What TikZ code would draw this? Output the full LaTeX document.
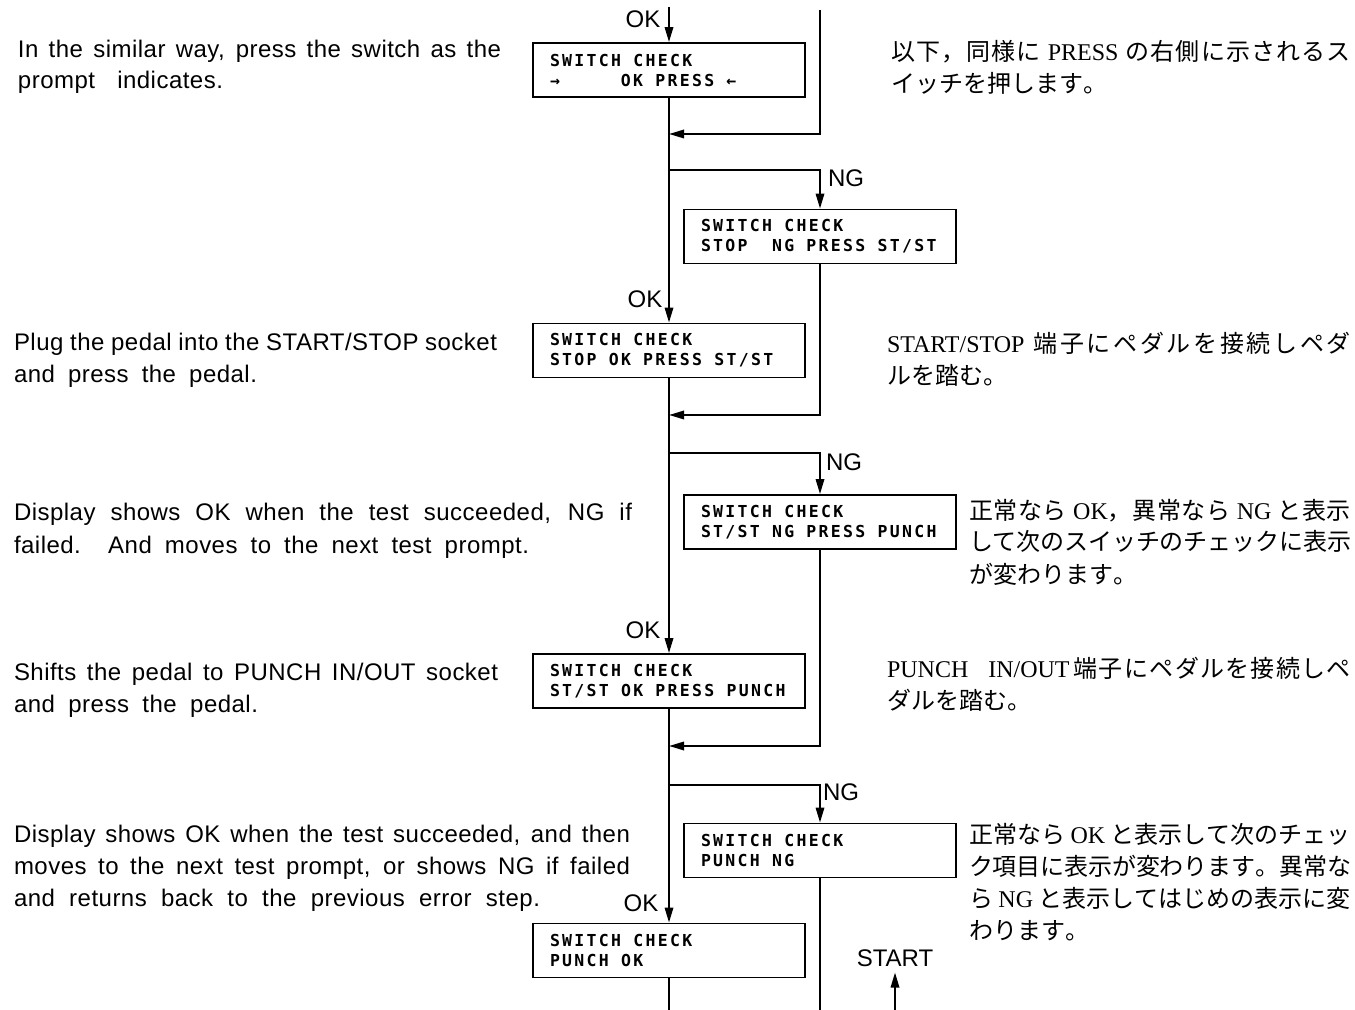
\documentclass[tikz,border=0pt]{standalone}
\usepackage{fontspec}
\usetikzlibrary{arrows.meta}
\newfontfamily\ensans[LetterSpace=2]{Liberation Sans}
\newfontfamily\labsans{Liberation Sans}
\newfontfamily\jp{Noto Sans CJK JP}
\newfontfamily\jser{Liberation Serif}
\newfontfamily\lcd[LetterSpace=14]{DejaVu Sans Mono}
\newcommand\lsp{\hspace*{6.1pt}}
\newcommand\jl[1]{{\jser #1}}
% inter-character glue between CJK characters (for justified lines)
\XeTeXinterchartokenstate=1
\newXeTeXintercharclass\cjkcls
\newcount\cjkcnt
\cjkcnt="3000 \loop\ifnum\cjkcnt<"3100 \XeTeXcharclass\cjkcnt=\cjkcls \advance\cjkcnt by 1 \repeat
\cjkcnt="4E00 \loop\ifnum\cjkcnt<"A000 \XeTeXcharclass\cjkcnt=\cjkcls \advance\cjkcnt by 1 \repeat
\cjkcnt="FF00 \loop\ifnum\cjkcnt<"FF60 \XeTeXcharclass\cjkcnt=\cjkcls \advance\cjkcnt by 1 \repeat
\XeTeXinterchartoks\cjkcls\cjkcls={\hskip0pt plus 1pt minus 0.5pt\relax}
\begin{document}
\begin{tikzpicture}[x=0.5pt,y=-0.5pt,line width=1pt,
  arr/.style={-{Triangle[length=7.5pt,width=4.2pt]}},
  lcdbox/.style={draw,line width=0.9pt,minimum width=136pt,minimum height=27pt,
    inner xsep=8.5pt,inner ysep=0pt,text width=119pt,align=left,
    font=\lcd\bfseries\fontsize{8.25pt}{10pt}\selectfont},
  entext/.style={anchor=base west,inner sep=0pt,font=\ensans\fontsize{12pt}{14pt}\selectfont},
  jptext/.style={anchor=base west,inner sep=0pt,font=\jp\fontsize{12pt}{16pt}\selectfont},
  lab/.style={inner sep=0pt,font=\labsans\fontsize{12pt}{14pt}\selectfont}]
\useasboundingbox (0,0) rectangle (1355,1010);

% boxes
\node[lcdbox] (b1) at (669,70) {\mbox{SWITCH\lsp CHECK}\\\mbox{→\lsp\lsp\lsp\lsp\lsp OK\lsp PRESS\lsp ←}};
\node[lcdbox] (b2) at (820,236.5) {\mbox{SWITCH\lsp CHECK}\\\mbox{STOP\lsp\lsp NG\lsp PRESS\lsp ST/ST}};
\node[lcdbox] (b3) at (669,350.5) {\mbox{SWITCH\lsp CHECK}\\\mbox{STOP\lsp OK\lsp PRESS\lsp ST/ST}};
\node[lcdbox] (b4) at (820,522) {\mbox{SWITCH\lsp CHECK}\\\mbox{ST/ST\lsp NG\lsp PRESS\lsp PUNCH}};
\node[lcdbox] (b5) at (669,681) {\mbox{SWITCH\lsp CHECK}\\\mbox{ST/ST\lsp OK\lsp PRESS\lsp PUNCH}};
\node[lcdbox] (b6) at (820,850.5) {\mbox{SWITCH\lsp CHECK}\\\mbox{PUNCH\lsp NG}};
\node[lcdbox] (b7) at (669,950.5) {\mbox{SWITCH\lsp CHECK}\\\mbox{PUNCH\lsp OK}};

% labels
\node[lab] (ok1) at (643,19) {OK};
\node[lab] (ok2) at (645,299) {OK};
\node[lab] (ok3) at (643,630) {OK};
\node[lab] (ok4) at (641,903) {OK};
\node[lab] (ng1) at (846,178) {NG};
\node[lab] (ng2) at (844,462) {NG};
\node[lab] (ng3) at (841,792) {NG};
\node[lab,inner sep=2.5pt] (start) at (895,958) {START};

% coordinates
\coordinate (top) at (669,7);
\coordinate (rtop) at (820,10);
\coordinate (j1) at (669,134);
\coordinate (k1) at (669,170);
\coordinate (j2) at (669,415);
\coordinate (k2) at (669,453);
\coordinate (j3) at (669,746);
\coordinate (k3) at (669,785);
\coordinate (bot7) at (669,1010);
\coordinate (bot6) at (820,1010);
\coordinate (sbot) at (895,1010);

% connectors
\draw[arr] (top) -- (b1.north);
\draw[arr] (rtop) |- (j1);
\draw[arr] (b1.south) -- (b3.north);
\draw[arr] (k1) -| (b2.north);
\draw[arr] (b2.south) |- (j2);
\draw[arr] (b3.south) -- (b5.north);
\draw[arr] (k2) -| (b4.north);
\draw[arr] (b4.south) |- (j3);
\draw[arr] (b5.south) -- (b7.north);
\draw[arr] (k3) -| (b6.north);
\draw (b6.south) -- (bot6);
\draw (b7.south) -- (bot7);
\draw[arr] (sbot) -- (start.south);

% English text
\node[entext] (e1a) at (17,58) {\makebox[241.5pt][s]{In the similar way, press the switch as the}};
\node[entext] (e1b) at (17,89) {\makebox[102.5pt][s]{prompt indicates.}};
\node[entext] (e2a) at (13,351) {\makebox[241.5pt][s]{Plug the pedal into the START/STOP socket}};
\node[entext] (e2b) at (13,383) {\makebox[121.5pt][s]{and press the pedal.}};
\node[entext] (e3a) at (13,521) {\makebox[309pt][s]{Display shows OK when the test succeeded, NG if}};
\node[entext] (e3b) at (13,553) {\makebox[257.5pt][s]{failed. And moves to the next test prompt.}};
\node[entext] (e4a) at (13,680) {\makebox[242pt][s]{Shifts the pedal to PUNCH IN/OUT socket}};
\node[entext] (e4b) at (13,712) {\makebox[122pt][s]{and press the pedal.}};
\node[entext] (e5a) at (13,842) {\makebox[308pt][s]{Display shows OK when the test succeeded, and then}};
\node[entext] (e5b) at (13,874) {\makebox[308pt][s]{moves to the next test prompt, or shows NG if failed}};
\node[entext] (e5c) at (13,906) {\makebox[263pt][s]{and returns back to the previous error step.}};

% Japanese text
\node[jptext] (j1a) at (890,61) {\makebox[230pt][s]{以下，同様に \jl{PRESS} の右側に示されるス}};
\node[jptext] (j1b) at (890,93) {イッチを押します。};
\node[jptext] (j2a) at (886,353) {\makebox[232pt][s]{\jl{START/STOP} 端子にペダルを接続しペダ}};
\node[jptext] (j2b) at (886,385) {ルを踏む。};
\node[jptext] (j3a) at (968,519) {\makebox[191pt][s]{正常なら \jl{OK}，異常なら \jl{NG} と表示}};
\node[jptext] (j3b) at (968,551) {\makebox[191pt][s]{して次のスイッチのチェックに表示}};
\node[jptext] (j3c) at (968,583) {が変わります。};
\node[jptext] (j4a) at (886,677) {\makebox[232pt][s]{\jl{PUNCH}\hspace{10pt}\jl{IN/OUT}\hspace{2pt}端子にペダルを接続しペ}};
\node[jptext] (j4b) at (886,709) {ダルを踏む。};
\node[jptext] (j5a) at (968,843) {\makebox[191pt][s]{正常なら \jl{OK} と表示して次のチェッ}};
\node[jptext] (j5b) at (968,875) {\makebox[191pt][s]{ク項目に表示が変わります。異常な}};
\node[jptext] (j5c) at (968,907) {\makebox[191pt][s]{ら \jl{NG} と表示してはじめの表示に変}};
\node[jptext] (j5d) at (968,939) {わります。};
\end{tikzpicture}
\end{document}
